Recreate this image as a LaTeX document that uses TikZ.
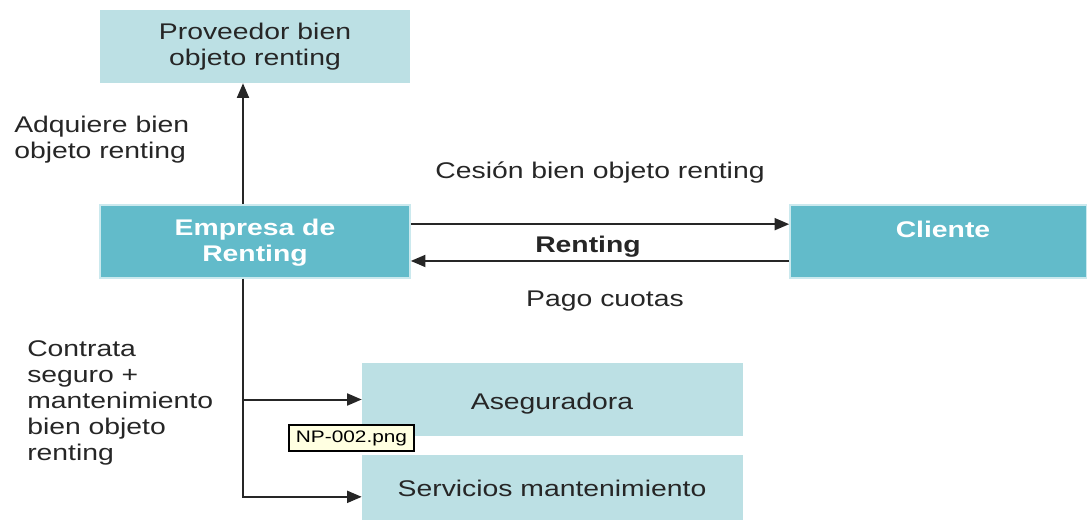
\documentclass[tikz,border=0pt]{standalone}
\usepackage{fontspec}
\setmainfont{Liberation Sans}[FakeStretch=1.25]
\usetikzlibrary{arrows.meta}
\definecolor{darkbox}{HTML}{62BBCA}
\definecolor{lightbox}{HTML}{BCE0E4}
\definecolor{boxedge}{HTML}{CBE9EE}
\definecolor{tipfill}{HTML}{FFFFE1}
\begin{document}
\begin{tikzpicture}[x=0.75pt,y=-0.75pt,
  txt/.style={inner sep=0pt,font=\fontsize{17}{19.6}\selectfont,text=black!85},
  lbox/.style={fill=lightbox,draw=none,minimum height=54.75pt,inner sep=0pt},
  dbox/.style={fill=darkbox,draw=boxedge,line width=1.2pt,minimum height=54.75pt,inner sep=0pt},
  arr/.style={draw=black!85,line width=1.5pt,-{Triangle[length=11pt,width=9pt]}},
  ln/.style={draw=black!85,line width=1.5pt}]
\useasboundingbox (0,0) rectangle (1087,520);
% boxes
\node[lbox,minimum width=232.5pt] (prov) at (255,46.5) {};
\node[dbox,minimum width=232.5pt] (emp) at (255,241.5) {};
\node[dbox,minimum width=222.75pt] (cli) at (938.5,241.5) {};
\node[lbox,minimum width=285.75pt] (aseg) at (552.5,399.5) {};
\node[lbox,minimum width=285.75pt,minimum height=48.75pt] (serv) at (552.5,487.5) {};
% box texts
\node[txt,align=center] (provt) at (255,47) {Proveedor bien\\objeto renting};
\node[txt,align=center,text=white,font=\fontsize{17}{19.6}\selectfont\bfseries] (empt) at (255,243) {Empresa de\\Renting};
\node[txt,text=white,font=\fontsize{17}{19.6}\selectfont\bfseries] (clit) at (943,229) {Cliente};
\node[txt] (asegt) at (552,404) {Aseguradora};
\node[txt] (servt) at (552,488) {Servicios mantenimiento};
% connectors
\draw[arr] ([xshift=-9pt]emp.north) -- ([xshift=-9pt]emp.north |- prov.south);
\draw[arr] ([yshift=13pt]emp.east) -- ([yshift=13pt]cli.west);
\draw[arr] ([yshift=-14.6pt]cli.west) -- ([yshift=-14.6pt]emp.east);
\draw[arr] ([xshift=-9pt]emp.south) |- (aseg.west);
\draw[arr] ([xshift=-9pt]emp.south) |- ([yshift=-7pt]serv.west);
% labels
\node[txt,align=left,anchor=west] (adq) at (14,140) {Adquiere bien\\objeto renting};
\node[txt] (ces) at (600,173) {Cesión bien objeto renting};
\node[txt,font=\fontsize{17}{19.6}\selectfont\bfseries] (rent) at (588,247) {Renting};
\node[txt] (pago) at (605,301) {Pago cuotas};
\node[txt,align=left,anchor=west] (contr) at (27,403) {Contrata\\seguro +\\mantenimiento\\bien objeto\\renting};
% tooltip
\node[draw=black,fill=tipfill,line width=0.8pt,minimum width=93.75pt,minimum height=19.5pt,inner sep=0pt,font=\fontsize{12.5}{14}\selectfont] (tip) at (351.5,438) {NP-002.png};
\end{tikzpicture}
\end{document}
